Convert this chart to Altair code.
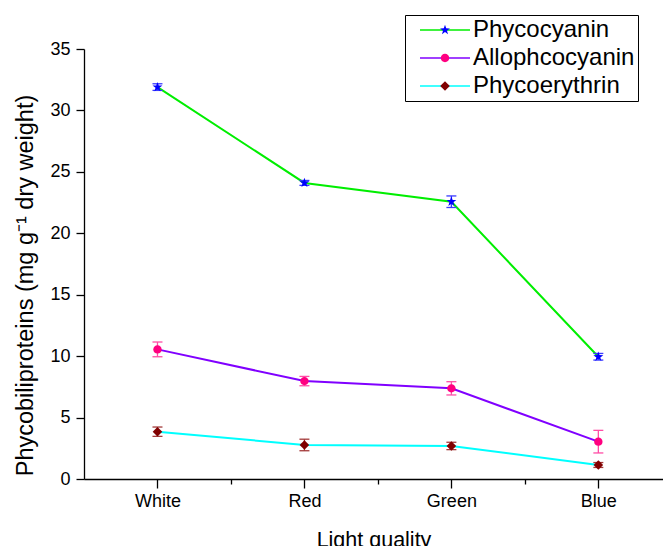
import altair as alt
import pandas as pd

categories = ["White", "Red", "Green", "Blue"]
positions = [1, 2, 3, 4]
series_names = ["Phycocyanin", "Allophcocyanin", "Phycoerythrin"]

phycocyanin = [31.9, 24.1, 22.57, 9.95]
phycocyanin_err = [0.27, 0.2, 0.47, 0.27]
allophycocyanin = [10.55, 7.97, 7.38, 3.04]
allophycocyanin_err = [0.6, 0.38, 0.54, 0.92]
phycoerythrin = [3.85, 2.77, 2.69, 1.14]
phycoerythrin_err = [0.38, 0.47, 0.3, 0.2]

line_colors = ["#00ee00", "#8000ff", "#00ffff"]
marker_colors = ["#0000ff", "#ff0080", "#800000"]
err_colors = ["#3a3aff", "#ff4da6", "#a33a3a"]

star = ("M0,-0.52 L0.123,-0.168 L0.495,-0.161 L0.198,0.064 L0.306,0.421 L0,0.208 "
        "L-0.306,0.421 L-0.198,0.064 L-0.495,-0.161 L-0.123,-0.168 Z")
circ = "M0.42,0 A0.42,0.42 0 1,1 -0.42,0 A0.42,0.42 0 1,1 0.42,0 Z"
diamond = "M0,-0.48 L0.48,0 L0,0.48 L-0.48,0 Z"
marker_shapes = [star, circ, diamond]

marker_keys = [n + "_m" for n in series_names]
err_keys = [n + "_e" for n in series_names]

rows = []
for i, (vals, errs) in enumerate([
    (phycocyanin, phycocyanin_err),
    (allophycocyanin, allophycocyanin_err),
    (phycoerythrin, phycoerythrin_err),
]):
    for p, c, v, e in zip(positions, categories, vals, errs):
        rows.append({"series": series_names[i], "marker": marker_keys[i], "errs": err_keys[i],
                     "pos": p, "cat": c, "value": v, "lo": v - e, "hi": v + e})
df = pd.DataFrame(rows)

FONT = "Liberation Sans"

xscale = alt.Scale(domain=[0.5, 4.44], nice=False, zero=False)
yscale = alt.Scale(domain=[0, 35], nice=False)

x_axis = alt.Axis(
    values=[1, 1.5, 2, 2.5, 3, 3.5, 4],
    labelExpr="datum.value % 1 === 0 ? ['', 'White', 'Red', 'Green', 'Blue'][datum.value] : ''",
    tickSize={"condition": {"test": "datum.value % 1 !== 0", "value": 5}, "value": 9},
    grid=False, domainColor="black", tickColor="black", domainWidth=1.3, tickWidth=1.3,
    labelFont=FONT, labelFontSize=18, labelColor="black", labelPadding=4,
    title="Light quality", titleFont=FONT, titleFontSize=21.5, titleFontWeight="normal",
    titleColor="black", titleBaseline="alphabetic", titleY=67,
)
y_axis = alt.Axis(
    values=[i * 2.5 for i in range(15)],
    labelExpr="datum.value % 5 === 0 ? datum.label : ''",
    tickSize={"condition": {"test": "datum.value % 5 !== 0", "value": 5}, "value": 8},
    grid=False, domainColor="black", tickColor="black", domainWidth=1.3, tickWidth=1.3,
    labelFont=FONT, labelFontSize=18, labelColor="black", labelPadding=6,
    title="Phycobiliproteins (mg g⁻¹ dry weight)", titleFont=FONT, titleFontSize=23.5,
    titleFontWeight="normal", titleColor="black", titleX=-59, titleY=236,
    titleBaseline="middle", titleAngle=270,
)

X = alt.X("pos:Q", scale=xscale, axis=x_axis)
Y = alt.Y("value:Q", scale=yscale, axis=y_axis)

leg_common = dict(
    title=None, orient="none", legendX=321, legendY=-34, padding=3,
    symbolSize=400, symbolStrokeWidth=1.5, symbolOffset=25, labelOffset=16,
    labelFont=FONT, labelFontSize=24, rowPadding=4, labelLimit=400,
)

base = alt.Chart(df)

lines = base.mark_line(strokeWidth=2).encode(
    x=X, y=Y,
    color=alt.Color("series:N", scale=alt.Scale(domain=series_names, range=line_colors),
                    sort=series_names,
                    legend=alt.Legend(symbolType="M-2.5,0H2.5", labelColor="black",
                                      strokeColor="black", fillColor="white", **leg_common)),
    order="pos:Q",
)

err_stroke = alt.Stroke("errs:N", scale=alt.Scale(domain=err_keys, range=err_colors),
                        legend=None)

err_rules = base.mark_rule(strokeWidth=1.3).encode(
    x=alt.X("pos:Q", scale=xscale), y=alt.Y("lo:Q", scale=yscale), y2="hi:Q", stroke=err_stroke
)
cap_lo = base.mark_point(shape="M-1,0H1", size=100, filled=False, strokeWidth=1.3, opacity=1).encode(
    x=alt.X("pos:Q", scale=xscale), y=alt.Y("lo:Q", scale=yscale), stroke=err_stroke
)
cap_hi = base.mark_point(shape="M-1,0H1", size=100, filled=False, strokeWidth=1.3, opacity=1).encode(
    x=alt.X("pos:Q", scale=xscale), y=alt.Y("hi:Q", scale=yscale), stroke=err_stroke
)

legB = alt.Legend(labelExpr="' '", labelColor="white", strokeColor="transparent", **leg_common)
points = base.mark_point(filled=True, size=400, opacity=1, strokeWidth=0).encode(
    x=alt.X("pos:Q", scale=xscale), y=alt.Y("value:Q", scale=yscale),
    fill=alt.Fill("marker:N", scale=alt.Scale(domain=marker_keys, range=marker_colors),
                  sort=marker_keys, legend=legB),
    shape=alt.Shape("marker:N", scale=alt.Scale(domain=marker_keys, range=marker_shapes),
                    sort=marker_keys, legend=legB),
)

chart = alt.layer(lines, err_rules, cap_lo, cap_hi, points).properties(
    width=579, height=430,
    autosize=alt.AutoSizeParams(type="none"),
    padding={"left": 84, "top": 49, "right": 0, "bottom": 67},
    background="white",
).configure_view(stroke=None)

chart.save("out.html", embed_options={"renderer": "svg", "actions": False})
